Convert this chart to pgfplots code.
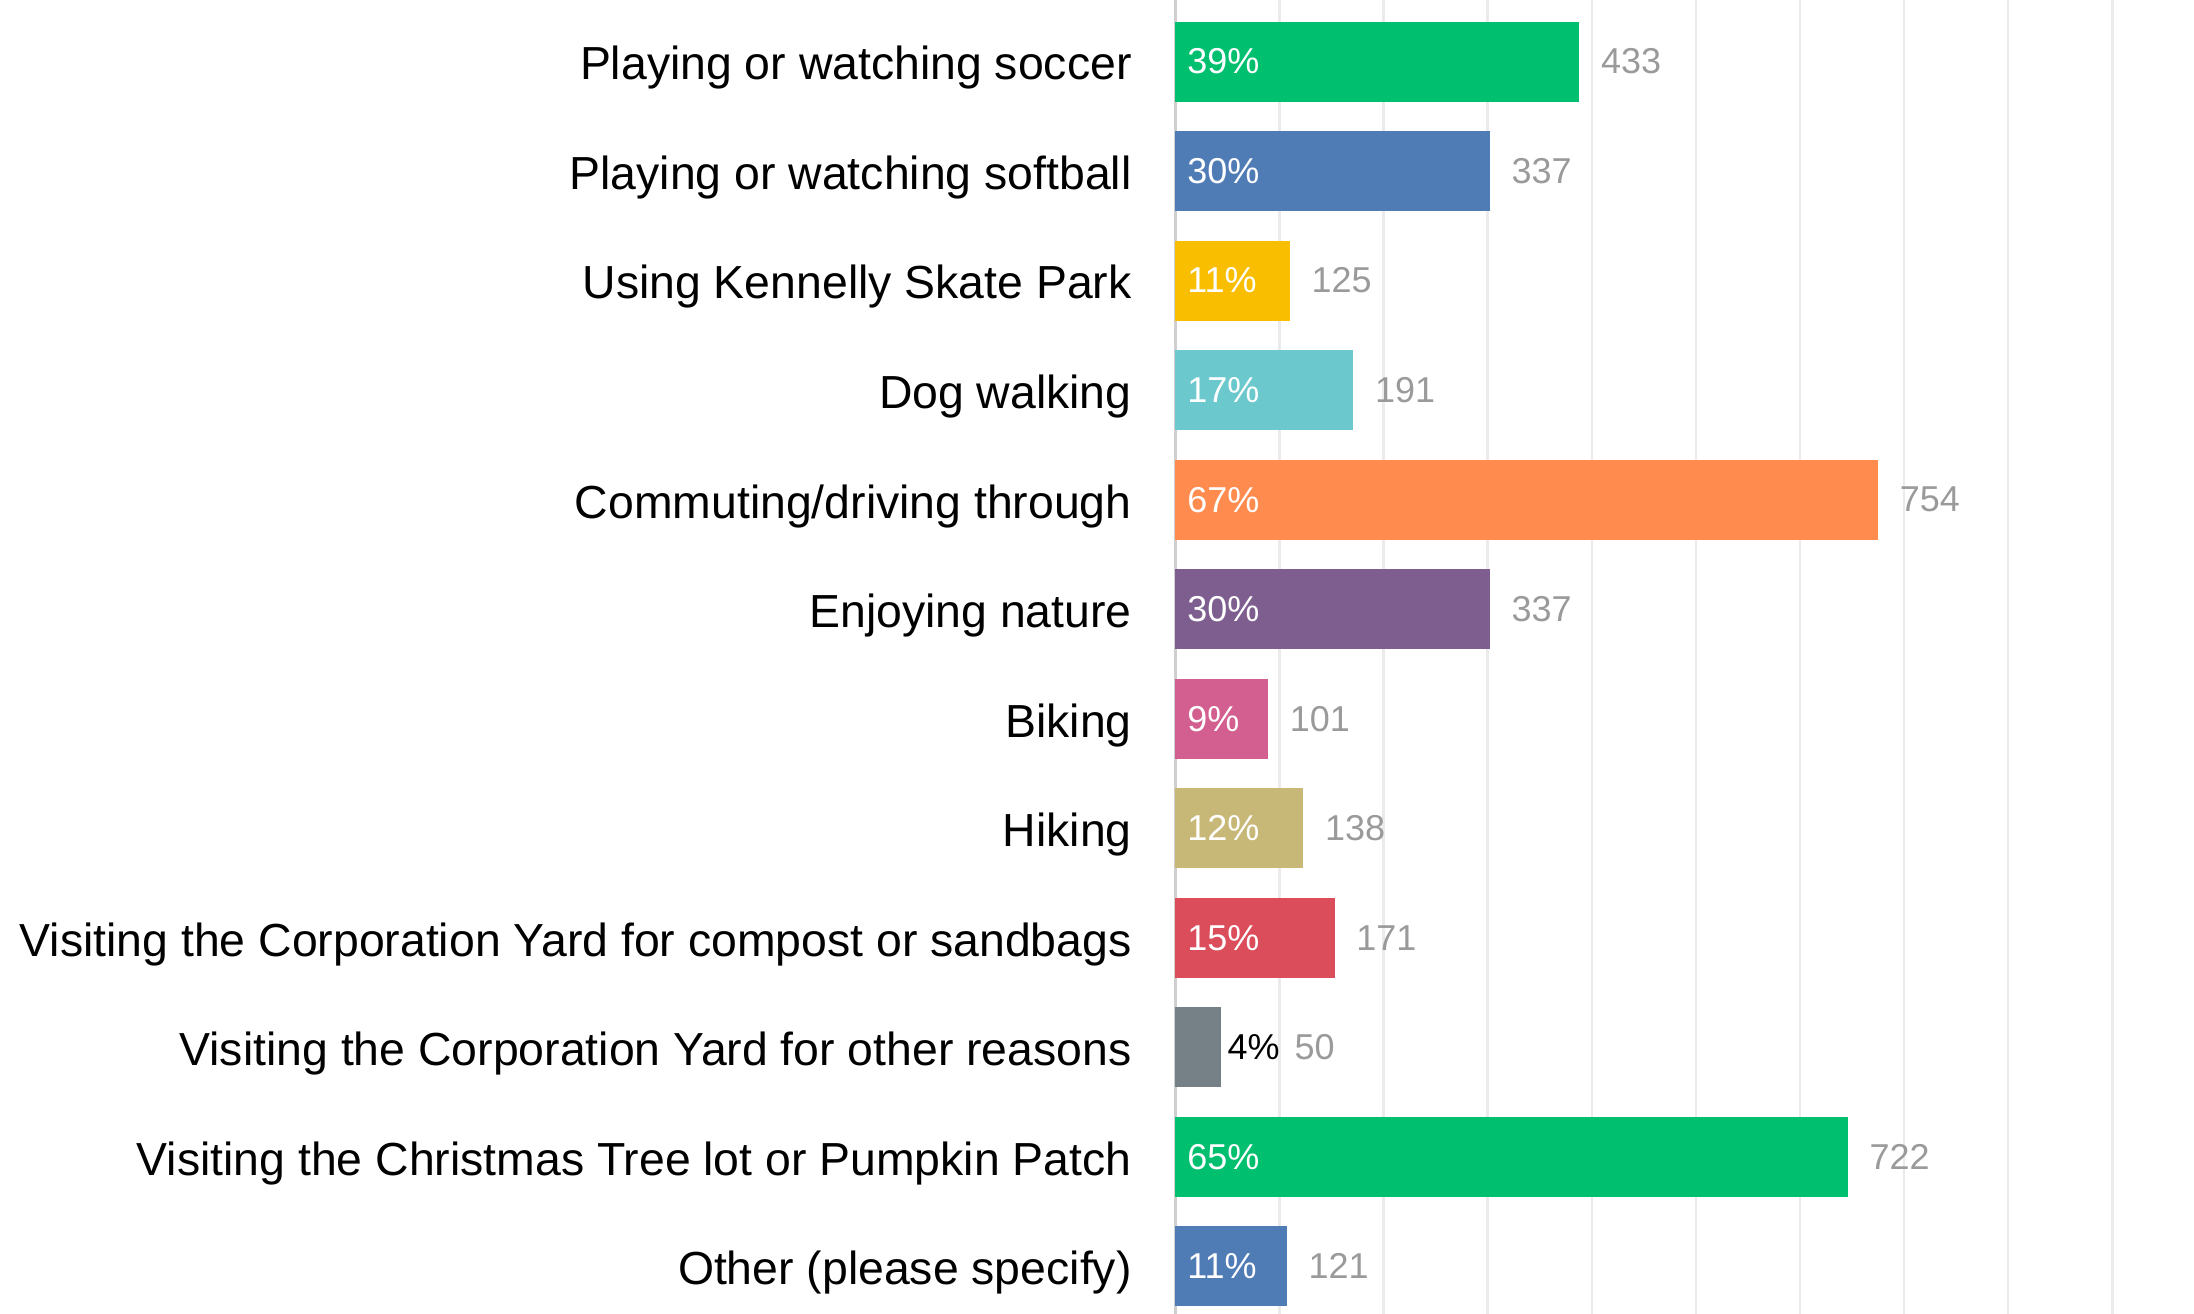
\documentclass[border=0pt]{standalone}
\usepackage{pgfplots}
\pgfplotsset{compat=1.18}
\usepackage{fontspec}
\setmainfont{Liberation Sans}
\definecolor{cGreen}{HTML}{00BF6F}
\definecolor{cBlue}{HTML}{507CB6}
\definecolor{cYellow}{HTML}{F9BE00}
\definecolor{cTeal}{HTML}{6BC8CD}
\definecolor{cOrange}{HTML}{FF8B4F}
\definecolor{cPurple}{HTML}{7D5E8F}
\definecolor{cPink}{HTML}{D25F90}
\definecolor{cKhaki}{HTML}{C8B878}
\definecolor{cRed}{HTML}{DB4D5B}
\definecolor{cGray}{HTML}{768087}
\definecolor{gridgray}{HTML}{EBEBEB}
\definecolor{axisgray}{HTML}{CFCFCF}
\definecolor{countgray}{HTML}{9A9A9A}
\begin{document}
\begin{tikzpicture}[pct/.style={anchor=west, inner sep=0pt, xshift=2.8pt, text=white, font=\fontsize{9}{10}\selectfont}]
\begin{axis}[
  at={(0,0)}, anchor=south west,
  scale only axis,
  width=254.8pt, height=328.65pt,
  xmin=0, xmax=97.85,
  ymin=-0.562, ymax=11.434,
  y dir=reverse,
  xbar, bar width=20pt, bar shift=0pt,
  xtick={0,10,...,90}, xticklabels={},
  xmajorgrids, grid style={draw=gridgray, line width=0.6pt},
  extra x ticks={0}, extra x tick labels={},
  extra x tick style={grid style={draw=axisgray, line width=0.8pt}},
  ytick={0,...,11},
  yticklabels={Playing or watching soccer, Playing or watching softball, Using Kennelly Skate Park, Dog walking, Commuting/driving through, Enjoying nature, Biking, Hiking, Visiting the Corporation Yard for compost or sandbags, Visiting the Corporation Yard for other reasons, Visiting the Christmas Tree lot or Pumpkin Patch, Other (please specify)},
  yticklabel style={font=\fontsize{11.6}{13}\selectfont, text=black, xshift=-7.4pt, yshift=-1.6pt},
  major tick length=0pt,
  axis line style={draw=none},
  clip=false,
  point meta=explicit symbolic,
  every node near coord/.style={font=\fontsize{9}{10}\selectfont, text=countgray, anchor=west, inner sep=0pt, xshift=5.25pt},
]
\addplot[fill=cGreen, draw=none, nodes near coords] coordinates {(38.8,0) [433]};
\addplot[fill=cBlue, draw=none, nodes near coords] coordinates {(30.2,1) [337]};
\addplot[fill=cYellow, draw=none, nodes near coords] coordinates {(11.0,2) [125]};
\addplot[fill=cTeal, draw=none, nodes near coords] coordinates {(17.1,3) [191]};
\addplot[fill=cOrange, draw=none, nodes near coords] coordinates {(67.5,4) [754]};
\addplot[fill=cPurple, draw=none, nodes near coords] coordinates {(30.2,5) [337]};
\addplot[fill=cPink, draw=none, nodes near coords] coordinates {(8.9,6) [101]};
\addplot[fill=cKhaki, draw=none, nodes near coords] coordinates {(12.3,7) [138]};
\addplot[fill=cRed, draw=none, nodes near coords] coordinates {(15.3,8) [171]};
\addplot[fill=cGray, draw=none, nodes near coords, every node near coord/.append style={xshift=12.9pt}] coordinates {(4.4,9) [50]};
\addplot[fill=cGreen, draw=none, nodes near coords] coordinates {(64.6,10) [722]};
\addplot[fill=cBlue, draw=none, nodes near coords] coordinates {(10.7,11) [121]};
\node[pct] at (axis cs:0,0) {39\%};
\node[pct] at (axis cs:0,1) {30\%};
\node[pct] at (axis cs:0,2) {11\%};
\node[pct] at (axis cs:0,3) {17\%};
\node[pct] at (axis cs:0,4) {67\%};
\node[pct] at (axis cs:0,5) {30\%};
\node[pct] at (axis cs:0,6) {9\%};
\node[pct] at (axis cs:0,7) {12\%};
\node[pct] at (axis cs:0,8) {15\%};
\node[pct, text=black, xshift=-1.4pt] at (axis cs:4.4,9) {4\%};
\node[pct] at (axis cs:0,10) {65\%};
\node[pct] at (axis cs:0,11) {11\%};
\end{axis}
\pgfresetboundingbox
\path[use as bounding box] (-294pt,0pt) rectangle (254.8pt,328.65pt);
\end{tikzpicture}
\end{document}
